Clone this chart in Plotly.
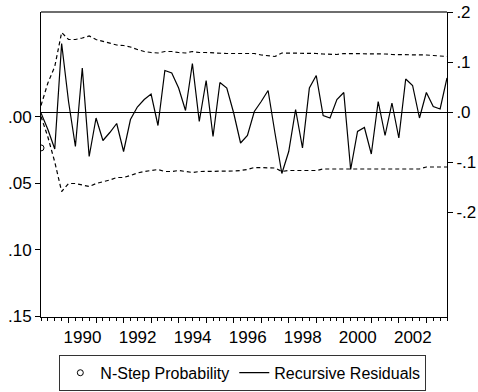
import plotly.graph_objects as go

# Quarterly sample 1989Q1 - 2003Q4 (60 observations), plotted on a fractional-year axis
n_obs = 60
quarters = [1989 + i / 4 for i in range(n_obs)]

# Recursive residuals (right axis)
recursive_residuals = [
    -0.002, -0.035, -0.074, 0.137, 0.021, -0.069, 0.088, -0.089, -0.012, -0.057,
    -0.041, -0.023, -0.079, -0.015, 0.010, 0.025, 0.036, -0.027, 0.083, 0.078,
    0.048, 0.003, 0.097, -0.019, 0.063, -0.049, 0.059, 0.048, -0.002, -0.062,
    -0.047, 0.001, 0.021, 0.043, -0.042, -0.123, -0.079, 0.005, -0.072, 0.048,
    0.073, -0.007, -0.012, 0.025, 0.039, -0.115, -0.039, -0.031, -0.084, 0.021,
    -0.047, 0.018, -0.052, 0.066, 0.053, -0.012, 0.039, 0.011, 0.006, 0.068,
]

# +/- 2 standard error bands
upper_band = [
    0.013, 0.058, 0.091, 0.159, 0.145, 0.145, 0.148, 0.152, 0.145, 0.141,
    0.138, 0.134, 0.133, 0.130, 0.125, 0.121, 0.119, 0.118, 0.121, 0.121,
    0.119, 0.118, 0.121, 0.119, 0.119, 0.118, 0.118, 0.117, 0.117, 0.117,
    0.117, 0.117, 0.114, 0.112, 0.111, 0.118, 0.118, 0.117, 0.117, 0.117,
    0.117, 0.116, 0.115, 0.115, 0.117, 0.117, 0.116, 0.117, 0.117, 0.116,
    0.116, 0.115, 0.115, 0.115, 0.114, 0.114, 0.114, 0.113, 0.112, 0.111,
]
lower_band = [
    -0.009, -0.050, -0.100, -0.159, -0.143, -0.143, -0.146, -0.149, -0.143, -0.140,
    -0.136, -0.131, -0.131, -0.127, -0.122, -0.119, -0.117, -0.115, -0.119, -0.119,
    -0.117, -0.119, -0.121, -0.119, -0.119, -0.119, -0.118, -0.118, -0.118, -0.117,
    -0.115, -0.111, -0.111, -0.111, -0.112, -0.119, -0.117, -0.117, -0.117, -0.117,
    -0.117, -0.114, -0.114, -0.114, -0.114, -0.115, -0.115, -0.115, -0.115, -0.115,
    -0.115, -0.115, -0.115, -0.114, -0.114, -0.114, -0.110, -0.110, -0.110, -0.110,
]

# N-step forecast test probabilities (left axis); values above .15 fall outside the axis
n_step_prob = [0.0235] + [None] * (n_obs - 1)

# Axis ticks
left_ticks = [0.0, 0.05, 0.10, 0.15]
left_labels = [".00", ".05", ".10", ".15"]
right_ticks = [-0.2, -0.1, 0.0, 0.1, 0.2]
right_labels = ["-.2", "-.1", ".0", ".1", ".2"]
year_ticks = list(range(1990, 2004))
year_labels = [str(y) if y % 2 == 0 else "" for y in year_ticks]

FONT = "Liberation Sans, Arial, sans-serif"

fig = go.Figure()

fig.add_trace(go.Scatter(
    x=quarters, y=n_step_prob, yaxis="y", mode="markers", name="N-Step Probability",
    marker=dict(symbol="circle-open", size=6, color="black", line=dict(width=1, color="black")),
))
fig.add_trace(go.Scatter(
    x=quarters, y=recursive_residuals, yaxis="y2", mode="lines", name="Recursive Residuals",
    line=dict(color="black", width=1.2),
))
fig.add_trace(go.Scatter(
    x=quarters, y=upper_band, yaxis="y2", mode="lines", showlegend=False,
    line=dict(color="black", width=1.2, dash="4px,3px"),
))
fig.add_trace(go.Scatter(
    x=quarters, y=lower_band, yaxis="y2", mode="lines", showlegend=False,
    line=dict(color="black", width=1.2, dash="4px,3px"),
))

fig.update_layout(
    width=478, height=392,
    margin=dict(l=41, r=31, t=12, b=75, autoexpand=False),
    paper_bgcolor="white", plot_bgcolor="white",
    font=dict(family=FONT, size=17, color="black"),
    xaxis=dict(
        range=[1989.0, 2003.75], showgrid=False, zeroline=False, automargin=False,
        showline=True, linecolor="black", linewidth=1,
        tickmode="array", tickvals=year_ticks, ticktext=year_labels,
        ticks="outside", ticklen=5, tickcolor="black", tickwidth=1,
        ticklabelshift=14,
        minor=dict(dtick=0.25, tick0=1989, ticks="outside", ticklen=3,
                   tickcolor="black", tickwidth=1, showgrid=False),
    ),
    yaxis=dict(
        range=[0.1504, -0.0785], showgrid=False, zeroline=False, automargin=False,
        showline=True, linecolor="black", linewidth=1,
        tickmode="array", tickvals=left_ticks, ticktext=left_labels,
        ticks="outside", ticklen=5, tickcolor="black",
    ),
    yaxis2=dict(
        range=[-0.41, 0.2], overlaying="y", side="right", showgrid=False,
        zeroline=True, zerolinecolor="black", zerolinewidth=1, automargin=False,
        showline=True, linecolor="black", linewidth=1,
        tickmode="array", tickvals=right_ticks, ticktext=right_labels,
        ticks="outside", ticklen=5, tickcolor="black",
    ),
    legend=dict(
        orientation="h", xref="container", yref="container",
        x=0.508, xanchor="center", y=0.003, yanchor="bottom",
        bordercolor="#333333", borderwidth=1, bgcolor="white",
        font=dict(family=FONT, size=16, color="black"),
        itemwidth=30, tracegroupgap=0,
    ),
    showlegend=True,
    shapes=[dict(type="line", xref="paper", yref="paper", x0=0, x1=1, y0=1, y1=1,
                 line=dict(color="#6e6e6e", width=2))],
)

fig.write_html("out.html")
